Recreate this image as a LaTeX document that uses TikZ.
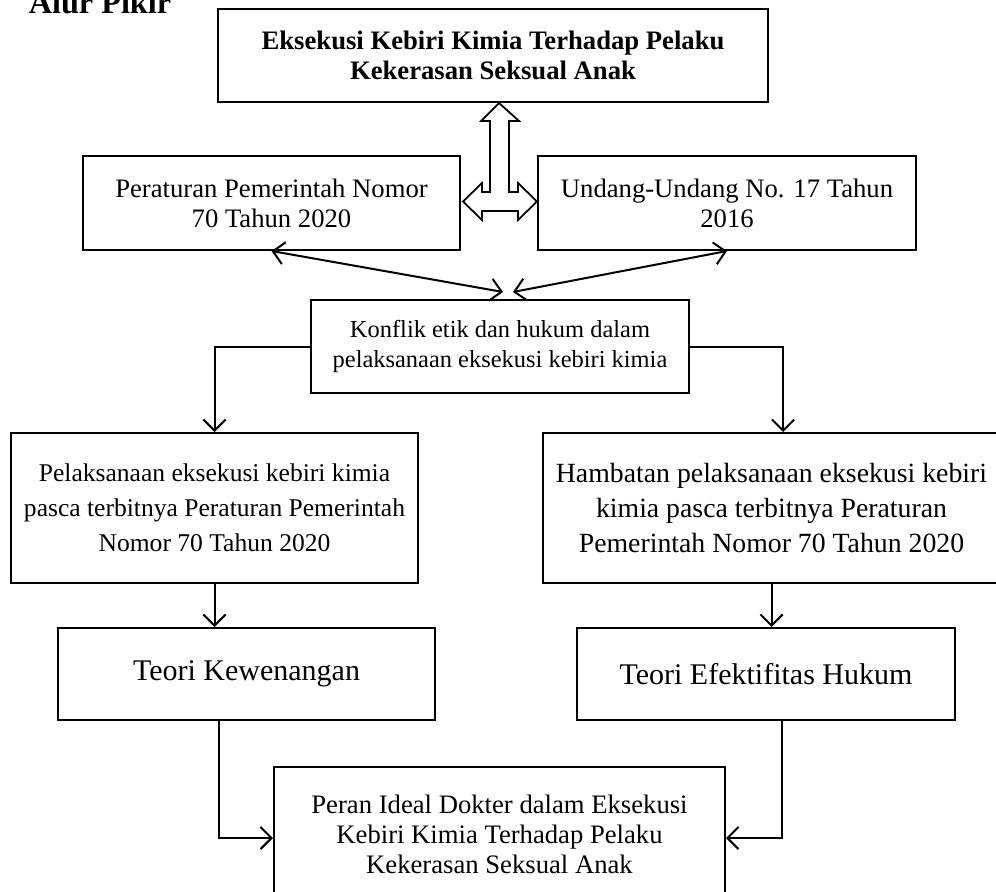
\documentclass[tikz,border=0pt]{standalone}
\usepackage{fontspec}
\setmainfont{Liberation Serif}
\usetikzlibrary{arrows.meta}

\tikzset{
  box/.style={draw, line width=0.9pt, align=center, inner sep=0pt,
    font=\fontsize{12}{13.5}\selectfont},
  conn/.style={line width=0.9pt, -{Straight Barb[length=5pt,width=10pt]}},
  dconn/.style={line width=0.9pt, {Straight Barb[length=5pt,width=10pt]}-{Straight Barb[length=5pt,width=10pt]}},
}

\begin{document}
\begin{tikzpicture}[x=0.45pt,y=-0.45pt]
    \useasboundingbox (0,0) rectangle (996,891);
    \node[font=\bfseries\fontsize{14.5}{14.5}\selectfont, anchor=base west] (judul) at (21,13) {Alur Pikir};
    % kotak-kotak
    \node[box, font=\bfseries\fontsize{12}{13.5}\selectfont, minimum width=247.5pt, minimum height=41.85pt] (eksekusi) at (493,55.5) {Eksekusi Kebiri Kimia Terhadap Pelaku\\Kekerasan Seksual Anak};
    \node[box, minimum width=169.65pt, minimum height=42.3pt] (pp) at (271.5,203) {Peraturan Pemerintah Nomor\\70 Tahun 2020};
    \node[box, minimum width=170.1pt, minimum height=42.3pt] (uu) at (727,203) {Undang-Undang No. 17 Tahun\\2016};
    \node[box, font=\fontsize{11}{13.5}\selectfont, minimum width=170.1pt, minimum height=41.85pt] (konflik) at (500,346.5) {Konflik etik dan hukum dalam\\pelaksanaan eksekusi kebiri kimia};
    \node[box, font=\fontsize{11.5}{15.75}\selectfont, minimum width=183.15pt, minimum height=67.5pt] (pelaksanaan) at (214.5,508) {Pelaksanaan eksekusi kebiri kimia\\pasca terbitnya Peraturan Pemerintah\\Nomor 70 Tahun 2020};
    \node[box, font=\fontsize{12.5}{15.75}\selectfont, minimum width=205.65pt, minimum height=67.5pt] (hambatan) at (771.5,508) {Hambatan pelaksanaan eksekusi kebiri\\kimia pasca terbitnya Peraturan\\Pemerintah Nomor 70 Tahun 2020};
    \node[box, font=\fontsize{13.5}{15}\selectfont, minimum width=169.65pt, minimum height=41.4pt] (kewenangan) at (246.5,674) {Teori Kewenangan};
    \node[box, font=\fontsize{13.5}{15}\selectfont, minimum width=170.1pt, minimum height=41.4pt] (efektifitas) at (766,674) {Teori Efektifitas Hukum};
    \node[box, minimum width=202.95pt, minimum height=60.3pt] (peran) at (499.5,834) {Peran Ideal Dokter dalam Eksekusi\\Kebiri Kimia Terhadap Pelaku\\Kekerasan Seksual Anak};
    % panah tiga arah
    \draw[line width=0.8pt] (499,103) -- (519,121) -- (509,121) -- (509,192) -- (518,192) -- (518,183)
        -- (537,201.5) -- (518,220) -- (518,211) -- (482,211) -- (482,220) -- (463,201.5) -- (482,183)
        -- (482,192) -- (490,192) -- (490,121) -- (481,121) -- cycle;
    % garis penghubung
    \draw[dconn] (pp.south) -- ([xshift=1.35pt,yshift=3.15pt]konflik.north);
    \draw[dconn] (uu.south) -- ([xshift=5.85pt,yshift=3.15pt]konflik.north);
    \draw[conn] (konflik.west) -| (pelaksanaan.north);
    \draw[conn] (konflik.east) -| ([xshift=5.2pt]hambatan.north);
    \draw[conn] (pelaksanaan.south) -- (pelaksanaan.south |- kewenangan.north);
    \draw[conn] (hambatan.south) -- (hambatan.south |- efektifitas.north);
    \draw[conn] ([xshift=-12.4pt]kewenangan.south) |- ([yshift=-1.8pt]peran.west);
    \draw[conn] ([xshift=7.2pt]efektifitas.south) |- ([yshift=-1.8pt]peran.east);
\end{tikzpicture}
\end{document}
